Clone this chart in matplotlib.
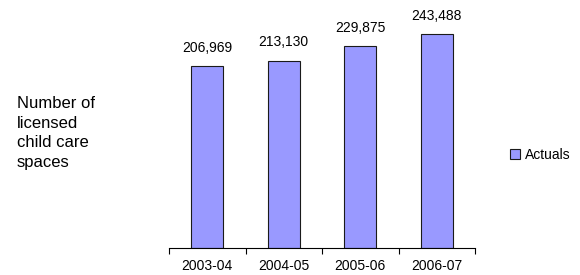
import matplotlib
matplotlib.use("Agg")
import matplotlib.pyplot as plt
from matplotlib.patches import Patch

years = ["2003-04", "2004-05", "2005-06", "2006-07"]
actuals = [206969, 213130, 229875, 243488]
value_labels = ["206,969", "213,130", "229,875", "243,488"]

plt.rcParams['font.family'] = ['Liberation Sans', 'DejaVu Sans']

fig = plt.figure(figsize=(5.8, 2.75), dpi=100)
ax = fig.add_axes([169/580, 27/275, (475-169)/580, 238/275])

x = list(range(len(years)))
bar_color = "#9999FF"
bars = ax.bar(x, actuals, width=0.42, color=bar_color, edgecolor="#1a1a1a", linewidth=0.8)
for xi, v, lab in zip(x, actuals, value_labels):
    ax.annotate(lab, (xi, v), xytext=(0, 8), textcoords="offset points",
                ha="center", va="bottom", fontsize=10)

ax.set_xlim(-0.5, len(years) - 0.5)
ax.set_ylim(0, 270600)
ax.set_xticks(x)
ax.set_xticklabels(years, fontsize=10)
ax.tick_params(axis="x", which="major", length=0, pad=8)
ax.set_xticks([i - 0.5 for i in range(len(years) + 1)], minor=True)
ax.tick_params(axis="x", which="minor", length=4, width=0.8, direction="out", color="black")
ax.set_yticks([])
for s in ["top", "right", "left"]:
    ax.spines[s].set_visible(False)
ax.spines["bottom"].set_linewidth(0.8)

fig.text(17/580, 1 - 133/275, "Number of\nlicensed\nchild care\nspaces", fontsize=12,
         ha="left", va="center", linespacing=1.4)

handle = Patch(facecolor=bar_color, edgecolor="#1a1a1a", linewidth=0.8)
fig.legend([handle], ["Actuals"], loc="center left", bbox_to_anchor=(510/580, 1 - 155/275),
           frameon=False, fontsize=10, handlelength=0.7, handleheight=0.7,
           handletextpad=0.4, borderpad=0, borderaxespad=0)

fig.savefig("out.png", dpi=100)
